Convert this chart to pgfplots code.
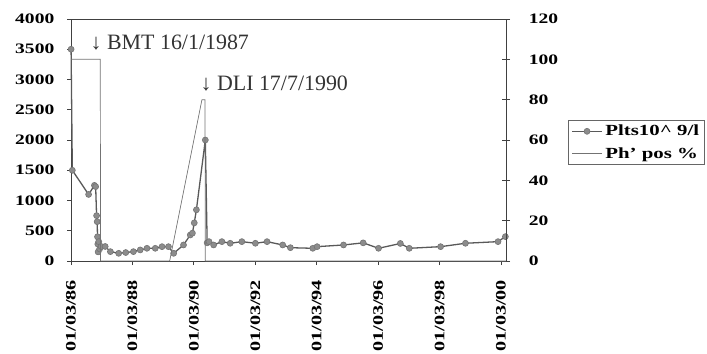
\documentclass[border=0pt]{standalone}
\usepackage{fontspec}
\setmainfont{Liberation Serif}
\usepackage{pgfplots}
\usepackage{pgfplotstable}
\pgfplotsset{compat=1.18}

\pgfplotstableread{
x y
1986.17 3500
1986.21 1500
1986.74 1100
1986.93 1250
1986.97 1230
1987.00 750
1987.02 650
1987.03 400
1987.04 280
1987.05 150
1987.07 320
1987.10 200
1987.15 240
1987.28 240
1987.45 155
1987.72 127
1987.95 140
1988.20 155
1988.42 183
1988.64 210
1988.91 210
1989.13 237
1989.34 237
1989.51 127
1989.83 265
1990.05 430
1990.12 460
1990.18 630
1990.25 846
1990.54 2000
1990.60 300
1990.66 320
1990.81 265
1991.08 320
1991.35 293
1991.73 320
1992.17 293
1992.55 320
1993.06 265
1993.31 220
1994.04 210
1994.18 237
1995.04 265
1995.68 300
1996.18 210
1996.89 290
1997.18 210
1998.20 237
1999.01 293
2000.07 320
2000.31 403
}\plts

\pgfplotstableread{
x y
1986.17 100
1987.12 100
1987.13 0
1989.38 0
1990.43 80
1990.53 80
1990.54 0
2000.33 0
}\phpos

\begin{document}
\begin{tikzpicture}
\path[use as bounding box] (0bp,0bp) rectangle (707bp,354bp);
\begin{axis}[
  at={(71bp,93bp)}, anchor=south west,
  scale only axis, width=435bp, height=242bp,
  xmin=1986.167, xmax=2000.33, ymin=0, ymax=4000,
  ytick={0,500,1000,1500,2000,2500,3000,3500,4000},
  xtick={1986.167,1988.167,1990.167,1992.167,1994.167,1996.167,1998.167,2000.167},
  xticklabels={01/03/86,01/03/88,01/03/90,01/03/92,01/03/94,01/03/96,01/03/98,01/03/00},
  tick pos=left, tick align=outside, major tick length=4bp,
  axis line style={black!75, line width=0.8bp},
  tick style={black!75, line width=0.8bp},
  scaled y ticks=false,
  /pgf/number format/assume math mode=true,
  /pgf/number format/1000 sep={},
  yticklabel shift=8bp,
  xticklabel shift=10bp,
  yticklabel style={font=\bfseries\fontsize{14.5}{16}\selectfont, xscale=1.35},
  xticklabel style={font=\bfseries\fontsize{14.5}{16}\selectfont, rotate=90, anchor=east, xscale=1.4},
  clip=false,
]
\addplot[color=black!65, line width=1.3bp, mark=*, mark size=3bp,
  mark options={fill=black!45, draw=black!55, line width=0.6bp}] table {\plts};
\node[anchor=base west, inner sep=0pt, font=\fontsize{22}{24}\selectfont, text=black!80]
  at (axis cs:1986.80,3500) {↓ BMT 16/1/1987};
\node[anchor=base west, inner sep=0pt, font=\fontsize{22}{24}\selectfont, text=black!80]
  at (axis cs:1990.38,2810) {↓ DLI 17/7/1990};
\end{axis}
\begin{axis}[
  at={(71bp,93bp)}, anchor=south west,
  scale only axis, width=435bp, height=242bp,
  xmin=1986.167, xmax=2000.33, ymin=0, ymax=120,
  axis y line*=right, axis x line=none,
  ytick={0,20,40,60,80,100,120},
  tick align=center, major tick length=8bp,
  axis line style={black!75, line width=0.8bp},
  tick style={black!75, line width=0.8bp},
  /pgf/number format/assume math mode=true,
  yticklabel shift=14bp,
  yticklabel style={font=\bfseries\fontsize{14.5}{16}\selectfont, xscale=1.35},
  clip=false,
  legend cell align=left,
  legend image code/.code={\draw[mark repeat=2,mark phase=2,#1] plot coordinates {(0bp,0bp)(15bp,0bp)(30bp,0bp)};},
  legend style={at={(1.1425,0.49)}, anchor=west, draw=black!60, line width=0.8bp,
    font=\bfseries\fontsize{15.5}{17}\selectfont, row sep=6bp, inner sep=3bp,
    nodes={xscale=1.35, transform shape=false}},
]
\addlegendimage{color=black!65, line width=1.3bp, mark=*, mark size=3bp,
  mark options={fill=black!45, draw=black!55, line width=0.6bp}}
\addlegendentry{Plts10\textasciicircum\ 9/l}
\addplot[color=black!55, line width=0.7bp] table {\phpos};
\addlegendentry{Ph' pos \%}
\end{axis}
\end{tikzpicture}
\end{document}
